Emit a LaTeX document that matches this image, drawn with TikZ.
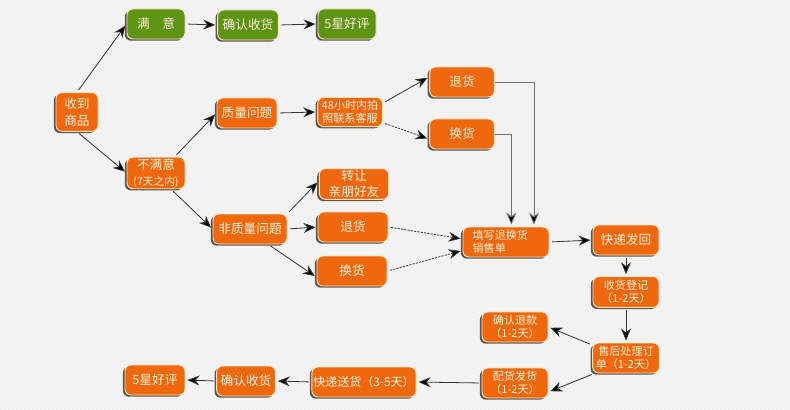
\documentclass[tikz,border=0pt]{standalone}
\usepackage{fontspec}
\setmainfont{Noto Sans CJK SC}
\usetikzlibrary{shadows,arrows.meta,patterns}
\definecolor{bgc}{HTML}{F1F1F1}
\definecolor{stripec}{HTML}{F8F8F8}
\definecolor{orangec}{HTML}{F0680E}
\definecolor{greenc}{HTML}{5E9414}
\definecolor{edgec}{HTML}{FCE3BE}
\definecolor{shadowc}{HTML}{4A3C30}
\definecolor{textc}{HTML}{FFF1DC}
\definecolor{linec}{HTML}{333333}
\definecolor{vlinec}{HTML}{707070}
\tikzset{
  box/.style={rectangle, rounded corners=4.5pt, fill=orangec, draw=edgec, line width=0.7pt,
    text=textc, align=center, inner sep=1pt, minimum width=43.5pt, minimum height=22.5pt,
    font=\fontsize{9.5}{12}\selectfont,
    drop shadow={shadow xshift=-1.6pt, shadow yshift=-1.3pt, fill=shadowc, opacity=0.85}},
  gbox/.style={box, fill=greenc},
  small/.style={font=\fontsize{8.3}{10}\selectfont},
  arr/.style={draw=linec, line width=0.6pt, -{Stealth[length=9pt,width=7.5pt,fill=black]}, shorten >=1.5pt, shorten <=2pt},
  darr/.style={arr, dash pattern=on 1.6pt off 0.9pt},
  varr/.style={arr, draw=vlinec, shorten <=0pt},
}
\begin{document}
\begin{tikzpicture}[x=0.75pt,y=-0.75pt]
\fill[bgc] (0,0) rectangle (790,410);
\fill[pattern=north west lines, pattern color=stripec] (0,0) rectangle (790,410);
\useasboundingbox (0,0) rectangle (790,410);

\node[box, minimum width=31.5pt, minimum height=29pt, font=\fontsize{9.5}{12.5}\selectfont] (sd) at (77,112) {收到\\商品};
\node[gbox] (my) at (156,24) {满\hspace{1em}意};
\node[gbox, minimum width=45.5pt] (qr1) at (248,25) {确认收货};
\node[gbox] (hp1) at (347,24) {5星好评};
\node[box] (bmy) at (156,173) {不满意\\{\fontsize{8}{10}\selectfont(7天之内)}};
\node[box, minimum width=45pt] (zl) at (247,113) {质量问题};
\node[box, small, minimum width=48.5pt, minimum height=22pt] (hs) at (350,112) {48小时内拍\\照联系客服};
\node[box, minimum width=48.5pt] (th1) at (462,82) {退货};
\node[box, minimum width=48.5pt] (hh1) at (462,134) {换货};
\node[box, minimum width=52pt, minimum height=23pt] (zr) at (354,184) {转让\\亲朋好友};
\node[box, minimum width=55.5pt] (fz) at (250,229) {非质量问题};
\node[box, minimum width=52.5pt] (th2) at (353,227) {退货};
\node[box, minimum width=52.5pt] (hh2) at (352,271) {换货};
\node[box, small, minimum width=64.5pt, text width=50pt, align=left] (tx) at (506,242) {填写退换货\\销售单};
\node[box, minimum width=49.5pt] (kd) at (626,240) {快递发回};
\node[box, small, minimum width=49.5pt, minimum height=23pt] (sj) at (626,292) {收货登记\\（1-2天）};
\node[box, small, minimum width=49.5pt] (qk) at (515,327) {确认退款\\（1-2天）};
\node[box, small, minimum width=50pt] (sh) at (626,358) {售后处理订\\单（1-2天）};
\node[box, small, minimum width=49.5pt] (ph) at (515,383) {配货发货\\（1-2天）};
\node[box, minimum width=71pt, font=\fontsize{9}{11}\selectfont] (ks) at (364,382) {快递送货（3-5天）};
\node[box, minimum width=44pt] (qr2) at (246,381) {确认收货};
\node[box, minimum width=45pt] (hp2) at (155,380) {5星好评};

\draw[arr] (sd.north) -- (my.west);
\draw[arr] (sd.south) -- (bmy.west);
\draw[arr] (my.east) -- (qr1.west);
\draw[arr] (qr1.east) -- (hp1.west);
\draw[arr] (bmy.41) -- (zl.west);
\draw[arr] (bmy.-47) -- (fz.west);
\draw[arr] (zl.east) -- (hs.west);
\draw[arr] (hs.15) -- (th1.171);
\draw[darr] (hs.-18) -- (hh1.189);
\draw[arr] (fz.north east) -- (zr.175);
\draw[arr] (fz.east) -- (th2.west);
\draw[arr] (fz.-40) -- (hh2.190);
\draw[darr] (th2.east) -- (tx.176);
\draw[darr] (hh2.east) -- (tx.191);
\draw[varr] (th1.east) -| ([xshift=21pt]tx.north);
\draw[varr] (hh1.east) -| ([xshift=4pt]tx.north);
\draw[arr] (tx.east) -- (kd.west);
\draw[arr] (kd.south) -- (sj.north);
\draw[arr] (sj.south) -- (sh.north);
\draw[arr] (sh.159) -- (qk.east);
\draw[arr] (sh.206) -- (ph.-15);
\draw[arr] (ph.west) -- (ks.east);
\draw[arr] (ks.west) -- (qr2.east);
\draw[arr] (qr2.west) -- (hp2.east);
\end{tikzpicture}
\end{document}
